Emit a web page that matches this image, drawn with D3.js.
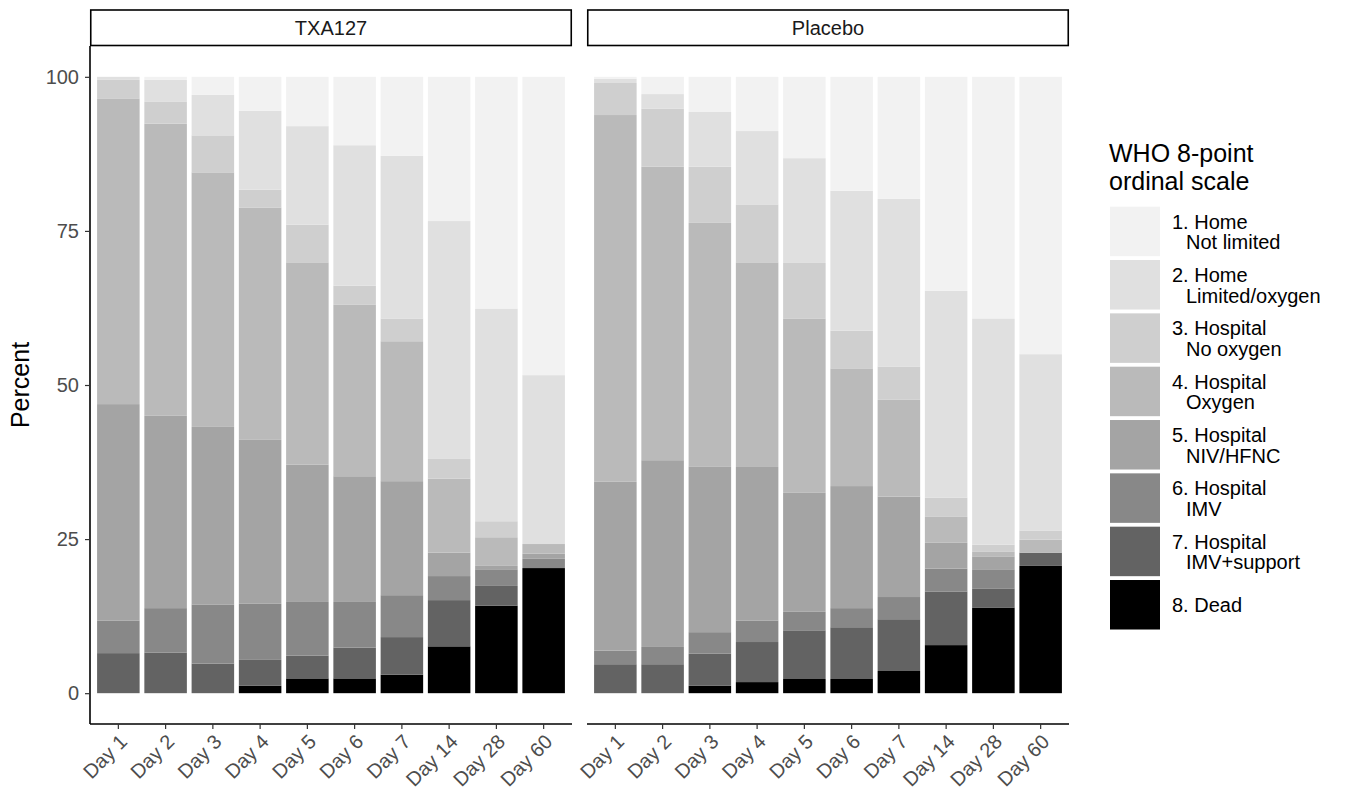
<!DOCTYPE html>
<html>
<head>
<meta charset="utf-8">
<script src="https://cdn.jsdelivr.net/npm/d3@7"></script>
<style>
  html, body { margin: 0; padding: 0; background: #ffffff; }
  svg { display: block; font-family: "Liberation Sans", Arial, Helvetica, sans-serif; }
</style>
</head>
<body>
<svg id="chart" width="1348" height="796"></svg>
<script>
// ---- data ----
const days = ["Day 1", "Day 2", "Day 3", "Day 4", "Day 5", "Day 6", "Day 7", "Day 14", "Day 28", "Day 60"];
const arms = ["TXA127", "Placebo"];
const levels = ["1", "2", "3", "4", "5", "6", "7", "8"];
const levelLine1 = ["1. Home", "2. Home", "3. Hospital", "4. Hospital", "5. Hospital", "6. Hospital", "7. Hospital", "8. Dead"];
const levelLine2 = ["Not limited", "Limited/oxygen", "No oxygen", "Oxygen", "NIV/HFNC", "IMV", "IMV+support", ""];
const levelColors = ["#f2f2f2", "#e0e0e0", "#cfcfcf", "#bababa", "#a4a4a4", "#888888", "#636363", "#000000"];
const yTicks = [0, 25, 50, 75, 100];

// percent per day, levels 1..8
const txaPct = [
  [0.0, 0.5, 3.0, 49.6, 35.1, 5.3, 6.5, 0.0],
  [0.5, 3.5, 3.6, 47.4, 31.2, 7.2, 6.6, 0.0],
  [2.9, 6.6, 6.0, 41.3, 28.8, 9.6, 4.8, 0.0],
  [5.5, 12.8, 2.9, 37.7, 26.6, 9.1, 4.2, 1.2],
  [8.0, 16.0, 6.1, 32.8, 22.3, 8.7, 3.7, 2.4],
  [11.1, 22.8, 3.1, 27.8, 20.4, 7.4, 5.0, 2.4],
  [12.8, 26.4, 3.7, 22.7, 18.5, 6.8, 6.1, 3.0],
  [23.4, 38.6, 3.2, 12.0, 3.8, 3.9, 7.5, 7.6],
  [37.6, 34.5, 2.6, 4.65, 0.55, 2.7, 3.2, 14.2],
  [48.4, 27.4, 0.0, 1.55, 0.85, 1.5, 0.0, 20.3]
];
const placeboPct = [
  [0.3, 0.7, 5.2, 59.5, 27.4, 2.2, 4.7, 0.0],
  [2.8, 2.4, 9.4, 47.6, 30.3, 2.8, 4.7, 0.0],
  [5.7, 8.9, 9.1, 39.5, 26.9, 3.5, 5.2, 1.2],
  [8.8, 11.9, 9.4, 33.2, 24.9, 3.5, 6.5, 1.8],
  [13.2, 17.0, 9.0, 28.3, 19.3, 3.0, 7.9, 2.3],
  [18.5, 22.7, 6.1, 19.1, 19.8, 3.1, 8.4, 2.3],
  [19.8, 27.2, 5.4, 15.7, 16.3, 3.6, 8.4, 3.6],
  [34.7, 33.6, 3.1, 4.2, 4.2, 3.7, 8.7, 7.8],
  [39.2, 36.7, 1.1, 0.8, 2.1, 3.1, 3.1, 13.9],
  [45.0, 28.6, 1.5, 2.1, 0.0, 0.0, 2.15, 20.65]
];

// ---- layout ----
const svg = d3.select("#chart");
const panelTop = 46, panelBottom = 724;
const panels = [
  { arm: arms[0], x0: 90, x1: 572, data: txaPct },
  { arm: arms[1], x0: 587, x1: 1069, data: placeboPct }
];
const stripTop = 10;

const y = d3.scaleLinear().domain([-5, 105]).range([panelBottom, panelTop]);
const color = d3.scaleOrdinal().domain(levels).range(levelColors);

const textCol = "#4d4d4d";
const tickFont = 20;

panels.forEach((p, pi) => {
  const x = d3.scaleBand().domain(days).range([p.x0, p.x1]).paddingInner(0.1).paddingOuter(0.15);
  const rows = p.data.map((vals, i) => {
    const o = { day: days[i] };
    levels.forEach((l, j) => o[l] = vals[j]);
    return o;
  });
  const stack = d3.stack().keys(levels.slice().reverse());
  const series = stack(rows);

  const g = svg.append("g");
  g.selectAll("g.layer").data(series).join("g")
    .attr("class", "layer")
    .attr("fill", d => color(d.key))
    .selectAll("rect").data(d => d).join("rect")
    .attr("x", d => x(d.data.day))
    .attr("width", x.bandwidth())
    .attr("y", d => y(d[1]))
    .attr("height", d => Math.max(0, y(d[0]) - y(d[1])));

  // strip
  svg.append("rect")
    .attr("x", p.x0 + 0.75).attr("y", stripTop)
    .attr("width", p.x1 - p.x0 - 1.5).attr("height", panelTop - stripTop - 0.5)
    .attr("fill", "#ffffff").attr("stroke", "#000000").attr("stroke-width", 1.6);
  svg.append("text")
    .attr("x", (p.x0 + p.x1) / 2).attr("y", (stripTop + panelTop) / 2 + 7)
    .attr("text-anchor", "middle").attr("font-size", 20).attr("fill", "#1a1a1a")
    .text(p.arm);

  // bottom axis
  const xAxis = d3.axisBottom(x).tickSize(5).tickPadding(4);
  const ax = svg.append("g").attr("transform", `translate(0,${panelBottom})`).call(xAxis);
  ax.select(".domain").attr("stroke", "#000").attr("stroke-width", 1.6)
    .attr("d", `M${p.x0},0H${p.x1}`);
  ax.selectAll(".tick line").attr("stroke", "#333333").attr("stroke-width", 1.2);
  ax.selectAll(".tick text")
    .attr("font-size", tickFont).attr("fill", textCol)
    .attr("text-anchor", "end")
    .attr("dy", null).attr("y", 0)
    .attr("transform", "translate(10,19) rotate(-45)");

  if (pi === 0) {
    const yAxis = d3.axisLeft(y).tickValues(yTicks).tickSize(5).tickPadding(6);
    const ay = svg.append("g").attr("transform", `translate(${p.x0},0)`).call(yAxis);
    ay.select(".domain").attr("stroke", "#000").attr("stroke-width", 1.6)
      .attr("d", `M0,${panelTop}V${panelBottom}`);
    ay.selectAll(".tick line").attr("stroke", "#333333").attr("stroke-width", 1.2);
    ay.selectAll(".tick text").attr("font-size", tickFont).attr("fill", textCol);
  }
});

// y title
svg.append("text")
  .attr("transform", `translate(29,${(panelTop + panelBottom) / 2}) rotate(-90)`)
  .attr("text-anchor", "middle").attr("font-size", 25).attr("fill", "#000")
  .text("Percent");

// legend
const lg = svg.append("g");
lg.append("text").attr("x", 1109).attr("y", 162).attr("font-size", 25).attr("fill", "#000").text("WHO 8-point");
lg.append("text").attr("x", 1109).attr("y", 189.5).attr("font-size", 25).attr("fill", "#000").text("ordinal scale");
const keyTop = 206.7, keyPitch = 53.33, keyH = 49.5, keyW = 50;
levels.forEach((l, i) => {
  const ky = keyTop + i * keyPitch;
  lg.append("rect").attr("x", 1110).attr("y", ky).attr("width", keyW).attr("height", keyH)
    .attr("fill", color(l));
  if (levelLine2[i]) {
    lg.append("text").attr("x", 1172).attr("y", ky + 22).attr("font-size", 20).attr("fill", "#000").text(levelLine1[i]);
    lg.append("text").attr("x", 1186).attr("y", ky + 42.5).attr("font-size", 20).attr("fill", "#000").text(levelLine2[i]);
  } else {
    lg.append("text").attr("x", 1172).attr("y", ky + 32).attr("font-size", 20).attr("fill", "#000").text(levelLine1[i]);
  }
});
</script>
</body>
</html>
